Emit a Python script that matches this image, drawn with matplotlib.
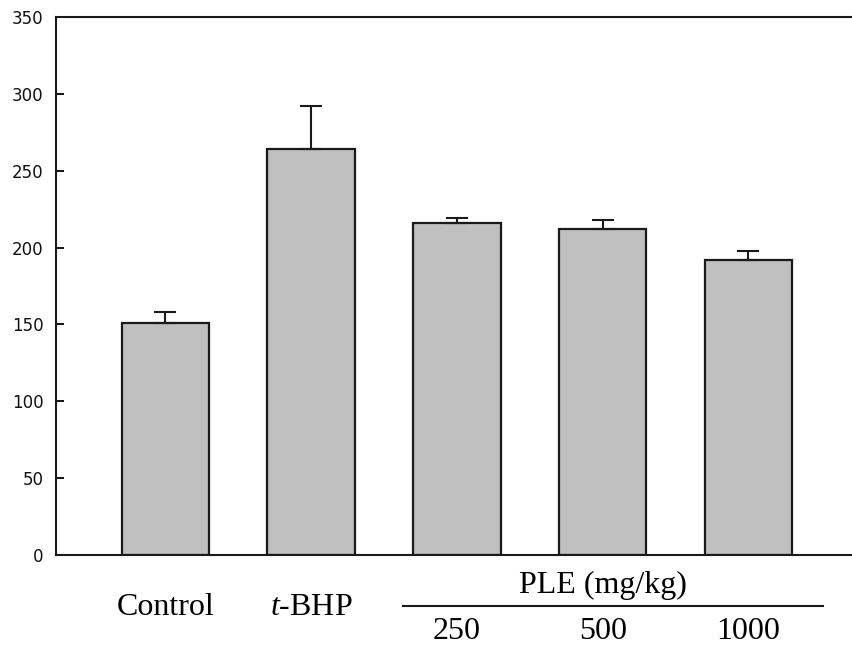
import matplotlib.pyplot as plt
import matplotlib.transforms as mtransforms

# ── data ─────────────────────────────────────────────────────────────────────
groups = ["Control", "t-BHP", "250", "500", "1000"]
means = [151, 264, 216, 212, 192]
errors = [7, 28, 3, 6, 6]
dose_labels = ["250", "500", "1000"]
dose_title = "PLE (mg/kg)"
yticks = [0, 50, 100, 150, 200, 250, 300, 350]

SERIF = "Liberation Serif"
plt.rcParams["mathtext.fontset"] = "custom"
plt.rcParams["mathtext.it"] = "Liberation Serif:italic"
plt.rcParams["mathtext.rm"] = "Liberation Serif"

fig = plt.figure(figsize=(8.52, 6.55), dpi=100)
ax = fig.add_axes([0.0657, 0.1527, 0.9343, 0.8213])

x = list(range(len(groups)))
ax.bar(x, means, width=0.6, color="#c0c0c0", edgecolor="#1a1a1a",
       linewidth=1.6, zorder=2)
ax.errorbar(x, means, yerr=[[0] * len(errors), errors], fmt="none",
            ecolor="#1a1a1a", elinewidth=1.5, capsize=8, capthick=1.5,
            zorder=3)

ax.set_xlim(-0.75, 4.71)
ax.set_ylim(0, 350)
ax.set_yticks(yticks)
ax.set_xticks([])
ax.tick_params(axis="y", direction="in", length=6, width=1.3, pad=9,
               labelsize=12, labelcolor="#111111")

ax.spines["right"].set_visible(False)
for side in ("left", "top", "bottom"):
    ax.spines[side].set_linewidth(1.5)
    ax.spines[side].set_color("#1a1a1a")

# ── group labels below the axis ──────────────────────────────────────────────
FS = 23
trans = mtransforms.blended_transform_factory(ax.transData, ax.transAxes)
ax.text(0, -0.0985, groups[0], transform=trans, ha="center", va="center",
        family=SERIF, fontsize=FS)
ax.text(1, -0.0985, r"$t$" + "-BHP", transform=trans, ha="center",
        va="center", family=SERIF, fontsize=FS)
ax.text(3, -0.0558, dose_title, transform=trans, ha="center", va="center",
        family=SERIF, fontsize=FS)
ax.plot([1.63, 4.51], [-0.0948, -0.0948], transform=trans, color="#1a1a1a",
        linewidth=1.5, clip_on=False)
for xi, lab in zip(x[2:], dose_labels):
    ax.text(xi, -0.143, lab, transform=trans, ha="center", va="center",
            family=SERIF, fontsize=FS)

fig.savefig("out.png", dpi=100)
